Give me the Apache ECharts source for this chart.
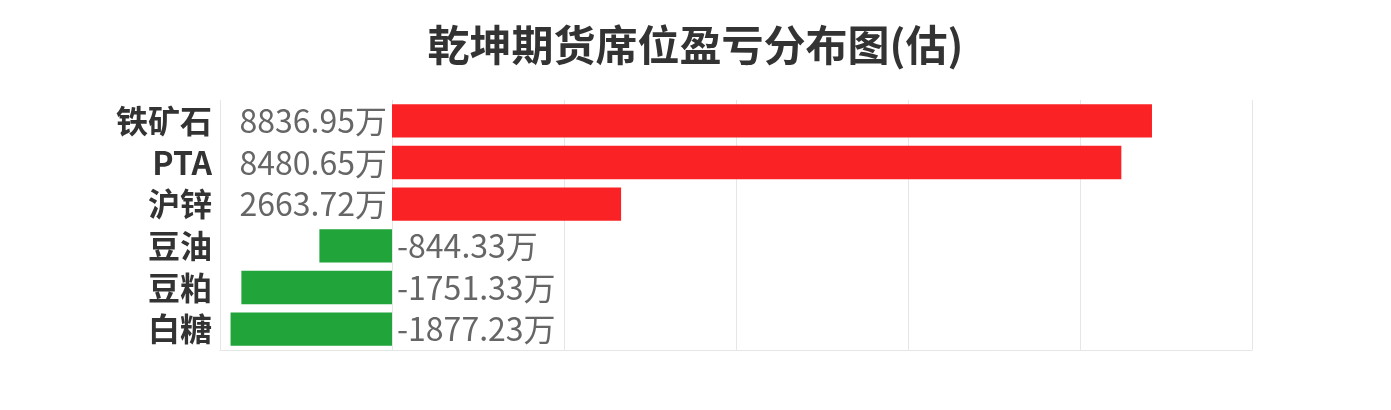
<!DOCTYPE html>
<html><head><meta charset="utf-8">
<script src="https://cdn.jsdelivr.net/npm/echarts@6/dist/echarts.min.js"></script>
<style>html,body{margin:0;padding:0;background:#fff}#c{width:1391px;height:410px}</style>
</head><body><div id="c"></div>
<script>
const categories = ['铁矿石','PTA','沪锌','豆油','豆粕','白糖'];
const values = [8836.95, 8480.65, 2663.72, -844.33, -1751.33, -1877.23];
const titleText = '乾坤期货席位盈亏分布图(估)';
const unit = '万';

const chart = echarts.init(document.getElementById('c'));
chart.setOption({
  animation: false,
  backgroundColor: '#fff',
  textStyle: {fontFamily: '"Noto Sans CJK SC", "Noto Sans", sans-serif'},
  title: {
    text: titleText, left: 'center', top: 19,
    textStyle: {fontSize: 42, fontWeight: 'bold', color: '#333', fontFamily: '"Noto Sans CJK SC", sans-serif'}
  },
  grid: {left: 220, right: 139, top: 100, bottom: 60, containLabel: false},
  xAxis: {
    type: 'value', min: -2000, max: 10000, interval: 2000,
    axisLabel: {show: false}, axisTick: {show: false},
    axisLine: {show: true, lineStyle: {color: '#e6e6e6'}},
    splitLine: {show: true, lineStyle: {color: '#e6e6e6'}}
  },
  yAxis: {
    type: 'category', data: categories, inverse: true,
    axisLine: {show: false}, axisTick: {show: false},
    axisLabel: {fontSize: 32, fontWeight: 'bold', color: '#333', margin: 8,
      fontFamily: '"Noto Sans CJK SC", sans-serif'}
  },
  series: [{
    type: 'bar', barWidth: '80%',
    data: values.map(v => ({
      value: v,
      itemStyle: {color: v >= 0 ? '#fa2224' : '#21a43a'},
      label: {show: true, position: v >= 0 ? 'left' : 'right', distance: 5,
        formatter: p => p.value + unit, fontSize: 32, color: '#666',
        fontFamily: '"Noto Sans CJK SC", sans-serif'}
    }))
  }]
});
</script></body></html>
